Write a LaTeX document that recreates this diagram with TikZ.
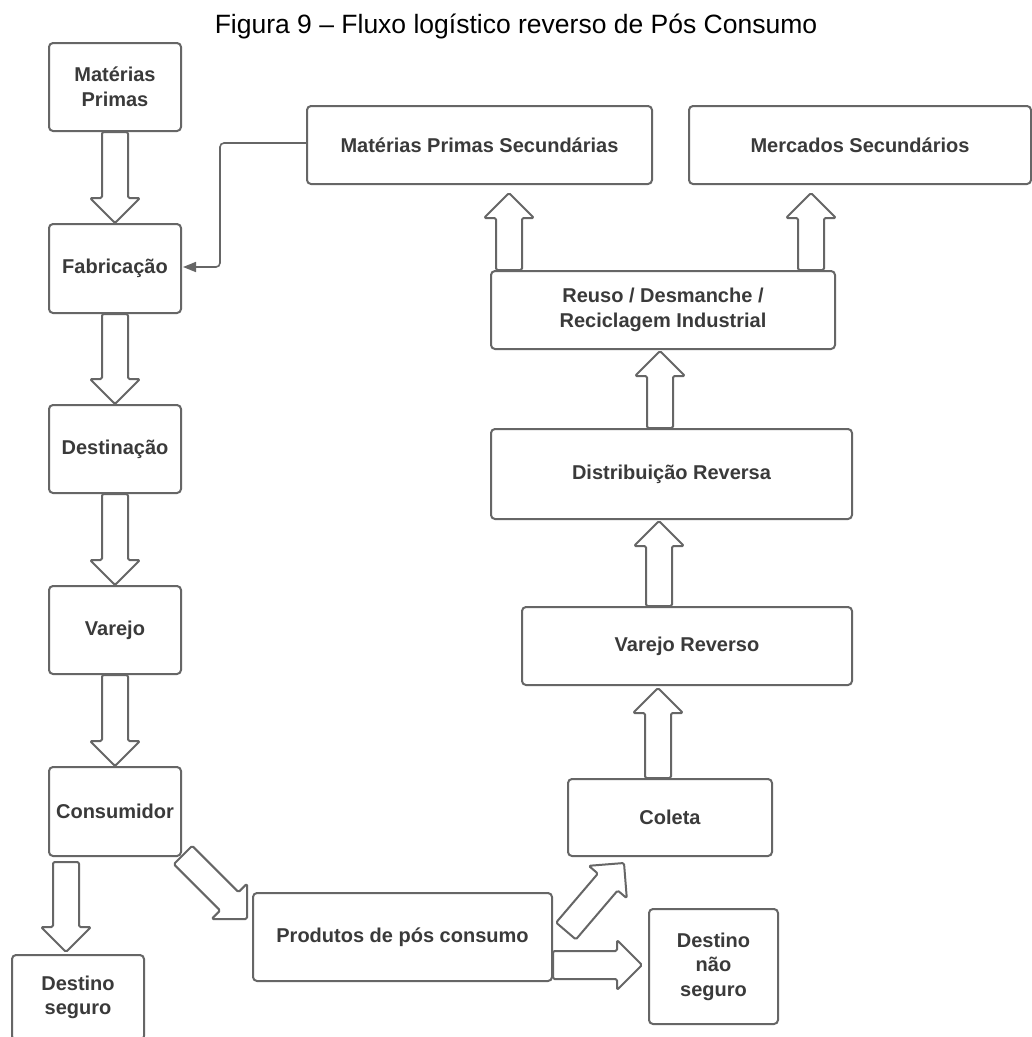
\documentclass[tikz,border=0pt]{standalone}
\usepackage{fontspec}
\setmainfont{Liberation Sans}
\usetikzlibrary{calc,arrows.meta}
\definecolor{boxgray}{HTML}{666666}
\definecolor{txtgray}{HTML}{3A3A3A}
\tikzset{
  box/.style={draw=boxgray, line width=2pt, rounded corners=4pt, align=center,
    text=txtgray, font=\bfseries\fontsize{20}{24.5}\selectfont, inner sep=0pt},
  blockarr/.style={draw=boxgray, line width=2pt, fill=white, rounded corners=1.5pt, line join=round},
  link/.style={draw=boxgray, line width=1.6pt, rounded corners=4pt, -{Triangle[length=13pt,width=10pt]}}
}
% block arrow: [half shaft width] {tail} {tip}
\newcommand\blockarrow[3][13]{%
  \coordinate (bT) at (#2);
  \coordinate (bP) at (#3);
  \coordinate (bH) at ($(bP)!25pt!(bT)$);
  \draw[blockarr] ($(bT)!#1pt!90:(bP)$) -- ($(bH)!#1pt!-90:(bT)$) -- ($(bH)!25pt!-90:(bT)$)
    -- (bP) -- ($(bH)!25pt!90:(bT)$) -- ($(bH)!#1pt!90:(bT)$) -- ($(bT)!#1pt!-90:(bP)$) -- cycle;
}
\begin{document}
\begin{tikzpicture}[x=1pt,y=-1pt]
\useasboundingbox (0,0) rectangle (1032,1037);
\fill[white] (0,0) rectangle (1032,1037);

\node[anchor=base, font=\fontsize{26.5}{30}\selectfont] (title) at (516,33)
  {Figura 9 – Fluxo logístico reverso de Pós Consumo};

% left column
\node[box, minimum width=132pt, minimum height=88pt] (mp)   at (115,87)    {Matérias\\Primas};
\node[box, minimum width=132pt, minimum height=89pt] (fab)  at (115,268.5) {Fabricação};
\node[box, minimum width=132pt, minimum height=88pt] (dest) at (115,449)   {Destinação};
\node[box, minimum width=132pt, minimum height=88pt] (var)  at (115,630)   {Varejo};
\node[box, minimum width=132pt, minimum height=89pt] (cons) at (115,811.5) {Consumidor};
\node[box, minimum width=132pt, minimum height=85pt] (seg)  at (78,997.5)  {Destino\\seguro};

% bottom
\node[box, minimum width=299pt, minimum height=88pt] (prod) at (402.5,937) {Produtos de pós consumo};
\node[box, minimum width=129pt, minimum height=115pt] (nseg) at (713.5,966.5) {Destino\\não\\seguro};

% right column
\node[box, minimum width=204pt, minimum height=77pt] (col)    at (670,817.5) {Coleta};
\node[box, minimum width=330pt, minimum height=78pt] (varrev) at (687,646)   {Varejo Reverso};
\node[box, minimum width=361pt, minimum height=90pt] (dist)   at (671.5,474) {Distribuição Reversa};
\node[box, minimum width=344pt, minimum height=78pt] (reuso)  at (663,310)   {Reuso / Desmanche /\\Reciclagem Industrial};
\node[box, minimum width=345pt, minimum height=78pt] (mps)    at (479.5,145) {Matérias Primas Secundárias};
\node[box, minimum width=342pt, minimum height=78pt] (merc)   at (860,145)   {Mercados Secundários};

% block arrows
\blockarrow{mp.south}{fab.north}
\blockarrow{fab.south}{dest.north}
\blockarrow{dest.south}{var.north}
\blockarrow{var.south}{cons.north}
\coordinate (cs1) at ($(cons.south west)+(18,5)$);
\coordinate (cs2) at ($(seg.north west)+(55,-2)$);
\blockarrow{cs1}{cs2}
\coordinate (cp1) at ($(cons.south east)+(1,-2)$);
\coordinate (cp2) at ($(prod.north west)+(-5,27)$);
\blockarrow{cp1}{cp2}
\coordinate (pc1) at ($(prod.north east)+(13,39)$);
\coordinate (pc2) at ($(col.south west)+(57,6)$);
\blockarrow{pc1}{pc2}
\coordinate (pn1) at ($(prod.north east)+(0,73)$);
\coordinate (pn2) at ($(nseg.north west)+(-6,57)$);
\blockarrow[14]{pn1}{pn2}
\coordinate (cv1) at ($(col.north west)+(91,0)$);
\coordinate (cv2) at ($(varrev.south west)+(137,2)$);
\blockarrow{cv1}{cv2}
\coordinate (vd1) at ($(varrev.north west)+(138,0)$);
\coordinate (vd2) at ($(dist.south west)+(169,1)$);
\blockarrow{vd1}{vd2}
\coordinate (dr1) at ($(dist.north west)+(170,0)$);
\coordinate (dr2) at ($(reuso.south west)+(170,1)$);
\blockarrow{dr1}{dr2}
\coordinate (rm1) at ($(reuso.north west)+(19,0)$);
\coordinate (rm2) at ($(mps.south west)+(203,8)$);
\blockarrow{rm1}{rm2}
\coordinate (rk1) at ($(reuso.north west)+(321,0)$);
\coordinate (rk2) at ($(merc.south west)+(123,8)$);
\blockarrow{rk1}{rk2}

% feedback connector
\draw[link, shorten >=1pt] ($(mps.west)+(0,-2)$) -- (220,143) |- ($(fab.east)+(0,-1.5)$);
\end{tikzpicture}
\end{document}
